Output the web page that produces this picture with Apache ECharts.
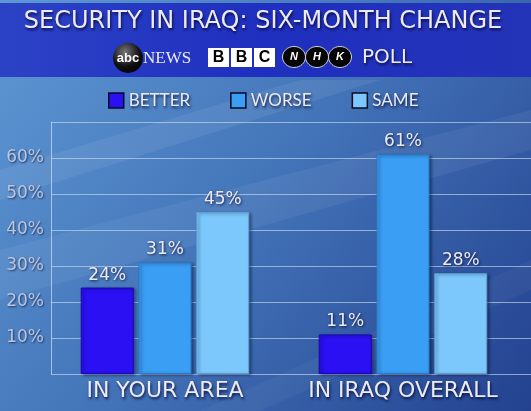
<!DOCTYPE html>
<html>
<head>
<meta charset="utf-8">
<script src="https://cdn.jsdelivr.net/npm/echarts@6/dist/echarts.min.js"></script>
<style>
  html, body { margin: 0; padding: 0; background: #2a4aa0; }
  #chart { width: 531px; height: 411px; }
</style>
</head>
<body>
<div id="chart"></div>
<script>
var categories = ['IN YOUR AREA', 'IN IRAQ OVERALL'];
var better = [24, 11];
var worse = [31, 61];
var same = [45, 28];
var seriesNames = ['BETTER', 'WORSE', 'SAME'];
var yTicks = [0, 10, 20, 30, 40, 50, 60, 70]; // 0 and 70 drawn without a label

var FONT = 'Lato, "Open Sans", sans-serif';
var WIDE = '"DejaVu Sans", sans-serif';
var LIGHT = '#ecebf2';

var chart = echarts.init(document.getElementById('chart'));

// bevel-ish look for the bars
function barStyle(face, edge) {
  return {
    color: face,
    borderColor: edge,
    borderWidth: 1,
    shadowColor: 'rgba(0,0,30,0.45)',
    shadowBlur: 3,
    shadowOffsetX: 2,
    shadowOffsetY: 1
  };
}

var labelStyle = {
  show: true,
  position: 'top',
  distance: 4,
  color: LIGHT,
  fontFamily: WIDE,
  fontSize: 17,
  formatter: '{c}%',
  textShadowColor: 'rgba(0,0,40,0.8)',
  textShadowBlur: 3,
  textShadowOffsetX: 1,
  textShadowOffsetY: 1
};

var option = {
  animation: false,
  graphic: [
    // background
    {
      type: 'rect', z: -20, silent: true,
      shape: { x: 0, y: 0, width: 531, height: 411 },
      style: {
        fill: new echarts.graphic.LinearGradient(0, 0, 1, 1, [
          { offset: 0, color: '#5e98d4' },
          { offset: 0.45, color: '#4577bb' },
          { offset: 1, color: '#23418f' }
        ])
      }
    },
    // faint diagonal streaks
    {
      type: 'polygon', z: -19, silent: true,
      shape: { points: [[0, 250], [531, 110], [531, 150], [0, 300]] },
      style: { fill: 'rgba(255,255,255,0.06)' }
    },
    {
      type: 'polygon', z: -19, silent: true,
      shape: { points: [[0, 170], [300, 80], [380, 80], [0, 200]] },
      style: { fill: 'rgba(255,255,255,0.07)' }
    },
    {
      type: 'polygon', z: -19, silent: true,
      shape: { points: [[200, 411], [531, 260], [531, 290], [260, 411]] },
      style: { fill: 'rgba(255,255,255,0.04)' }
    },
    // title band
    {
      type: 'rect', z: -18, silent: true,
      shape: { x: 0, y: 3, width: 531, height: 74 },
      style: {
        fill: new echarts.graphic.LinearGradient(0, 0, 1, 0, [
          { offset: 0, color: '#2c42c6' },
          { offset: 0.5, color: '#1f2fbf' },
          { offset: 1, color: '#2434b8' }
        ])
      }
    },
    {
      type: 'text', x: 263, y: 22,
      style: {
        text: 'SECURITY IN IRAQ: SIX-MONTH CHANGE',
        fill: LIGHT, font: '24px ' + WIDE, align: 'center', verticalAlign: 'middle',
        textShadowColor: 'rgba(0,0,40,0.8)', textShadowBlur: 3, textShadowOffsetX: 1, textShadowOffsetY: 2
      }
    },
    // abc NEWS
    {
      type: 'circle', shape: { cx: 128, cy: 58, r: 15 },
      style: {
        fill: new echarts.graphic.RadialGradient(0.4, 0.3, 0.8, [
          { offset: 0, color: '#777' },
          { offset: 0.6, color: '#111' },
          { offset: 1, color: '#000' }
        ])
      }
    },
    {
      type: 'text', x: 128, y: 58,
      style: { text: 'abc', fill: '#fff', font: 'bold 13px "Liberation Sans", sans-serif', align: 'center', verticalAlign: 'middle' }
    },
    {
      type: 'text', x: 143, y: 59,
      style: { text: 'NEWS', fill: LIGHT, font: '17px "Liberation Serif", serif', verticalAlign: 'middle' }
    },
    // BBC
    { type: 'rect', shape: { x: 208, y: 48, width: 21, height: 19 }, style: { fill: '#fff' } },
    { type: 'rect', shape: { x: 231, y: 48, width: 21, height: 19 }, style: { fill: '#fff' } },
    { type: 'rect', shape: { x: 254, y: 48, width: 21, height: 19 }, style: { fill: '#fff' } },
    { type: 'text', x: 218.5, y: 58, style: { text: 'B', fill: '#000', font: 'bold 16px "Liberation Sans", sans-serif', align: 'center', verticalAlign: 'middle' } },
    { type: 'text', x: 241.5, y: 58, style: { text: 'B', fill: '#000', font: 'bold 16px "Liberation Sans", sans-serif', align: 'center', verticalAlign: 'middle' } },
    { type: 'text', x: 264.5, y: 58, style: { text: 'C', fill: '#000', font: 'bold 16px "Liberation Sans", sans-serif', align: 'center', verticalAlign: 'middle' } },
    // NHK
    { type: 'ellipse', shape: { cx: 294, cy: 57, rx: 11.5, ry: 10.5 }, style: { fill: '#050505', stroke: '#cfd3e6', lineWidth: 1 } },
    { type: 'ellipse', shape: { cx: 317, cy: 57, rx: 11.5, ry: 10.5 }, style: { fill: '#050505', stroke: '#cfd3e6', lineWidth: 1 } },
    { type: 'ellipse', shape: { cx: 340, cy: 57, rx: 11.5, ry: 10.5 }, style: { fill: '#050505', stroke: '#cfd3e6', lineWidth: 1 } },
    { type: 'text', x: 294, y: 57, style: { text: 'N', fill: '#fff', font: 'italic bold 11px "Liberation Sans", sans-serif', align: 'center', verticalAlign: 'middle' } },
    { type: 'text', x: 317, y: 57, style: { text: 'H', fill: '#fff', font: 'italic bold 11px "Liberation Sans", sans-serif', align: 'center', verticalAlign: 'middle' } },
    { type: 'text', x: 340, y: 57, style: { text: 'K', fill: '#fff', font: 'italic bold 11px "Liberation Sans", sans-serif', align: 'center', verticalAlign: 'middle' } },
    {
      type: 'text', x: 362, y: 58,
      style: {
        text: 'POLL', fill: LIGHT, font: '20px ' + WIDE, verticalAlign: 'middle',
        textShadowColor: 'rgba(0,0,40,0.8)', textShadowBlur: 3, textShadowOffsetX: 1, textShadowOffsetY: 2
      }
    }
  ],
  legend: {
    top: 87,
    left: 103,
    icon: 'rect',
    itemWidth: 15,
    itemHeight: 15,
    itemGap: 40,
    data: seriesNames,
    itemStyle: { borderColor: '#0a0a20', borderWidth: 1.5 },
    textStyle: {
      color: LIGHT, fontFamily: FONT, fontSize: 17,
      textShadowColor: 'rgba(0,0,40,0.8)', textShadowBlur: 3, textShadowOffsetX: 1, textShadowOffsetY: 2
    }
  },
  grid: [
    { left: 51, right: 0, top: 122, bottom: 37 },   // gridlines
    { left: 46, right: 9, top: 122, bottom: 37 }    // bars
  ],
  xAxis: [
    { gridIndex: 0, type: 'category', data: categories, show: false },
    {
      gridIndex: 1, type: 'category', data: categories,
      axisLine: { show: false }, axisTick: { show: false },
      axisLabel: {
        interval: 0, hideOverlap: false,
        margin: 6, color: LIGHT, fontFamily: WIDE, fontSize: 22,
        textShadowColor: 'rgba(0,0,40,0.8)', textShadowBlur: 3, textShadowOffsetX: 1, textShadowOffsetY: 2
      }
    }
  ],
  yAxis: [
    {
      gridIndex: 0, type: 'value', min: yTicks[0], max: yTicks[yTicks.length - 1], interval: 10,
      axisLine: { show: true, lineStyle: { color: 'rgba(200,218,240,0.75)', width: 1 } },
      axisTick: { show: false },
      splitLine: { lineStyle: { color: 'rgba(200,218,240,0.65)', width: 1 } },
      axisLabel: {
        margin: 7, color: '#b9c6dc', fontFamily: WIDE, fontSize: 17,
        textShadowColor: 'rgba(0,0,40,0.6)', textShadowBlur: 2, textShadowOffsetX: 1, textShadowOffsetY: 1,
        formatter: function (v) {
          return (v === yTicks[0] || v === yTicks[yTicks.length - 1]) ? '' : v + '%';
        }
      }
    },
    {
      gridIndex: 1, type: 'value', min: yTicks[0], max: yTicks[yTicks.length - 1], interval: 10,
      show: false, splitLine: { show: false }
    }
  ],
  series: [
    {
      name: seriesNames[0], type: 'bar', xAxisIndex: 1, yAxisIndex: 1,
      data: better, barWidth: 53, barGap: '9%',
      itemStyle: barStyle('#2a10f2', '#1a08b0'), label: labelStyle
    },
    {
      name: seriesNames[1], type: 'bar', xAxisIndex: 1, yAxisIndex: 1,
      data: worse, barWidth: 53, barGap: '9%',
      itemStyle: barStyle('#3a9ef4', '#2a7cc8'), label: labelStyle
    },
    {
      name: seriesNames[2], type: 'bar', xAxisIndex: 1, yAxisIndex: 1,
      data: same, barWidth: 53, barGap: '9%',
      itemStyle: barStyle('#7cc8fd', '#5aa0d0'), label: labelStyle
    }
  ]
};

chart.setOption(option);
</script>
</body>
</html>
